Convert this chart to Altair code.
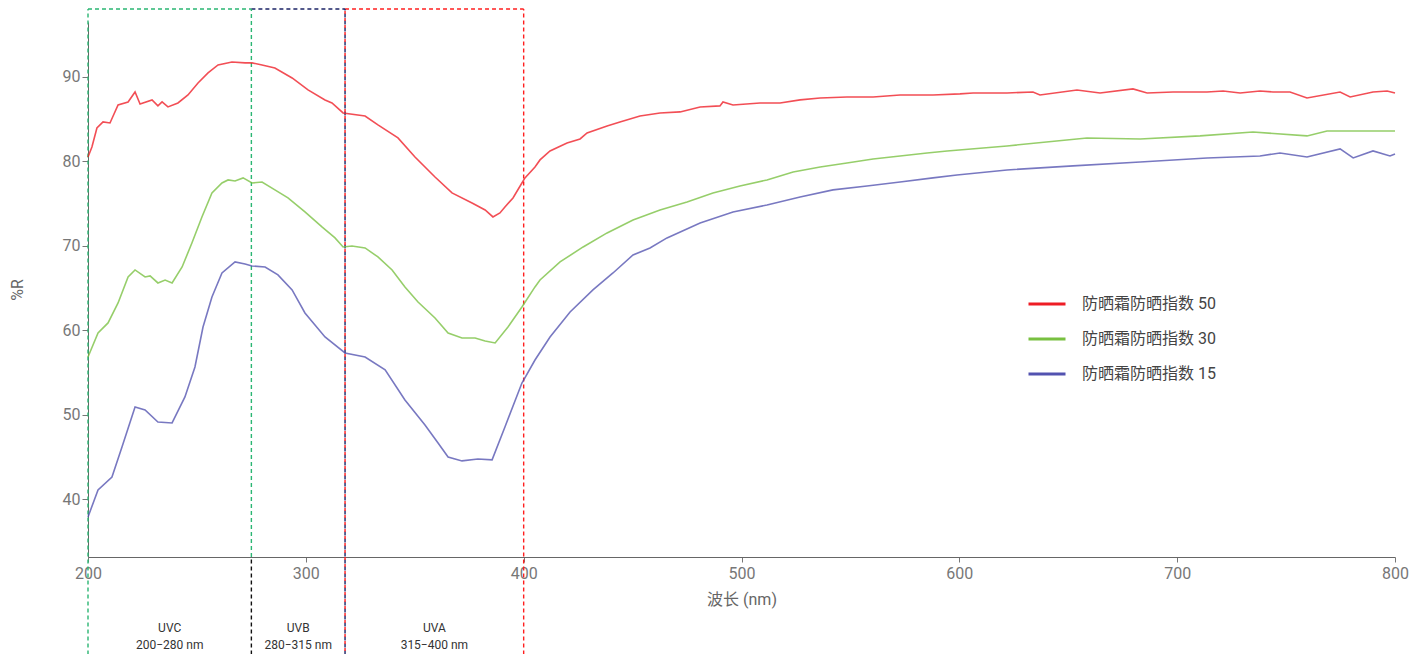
import altair as alt
import pandas as pd

# ---------------- data ----------------
series_names = ["防晒霜防晒指数 50", "防晒霜防晒指数 30", "防晒霜防晒指数 15"]
series_colors = ["#ee1c25", "#78c040", "#5252b0"]

wl_50 = [200, 201.8, 204.1, 206.9, 210.1, 213.8, 218.4, 221.6, 223.9, 229.4, 232.1, 234.0, 236.7, 241.3,
         245.9, 250.5, 255.1, 259.7, 266.1, 272.1, 275.3, 279.9, 285.8, 293.7, 301.0, 308.8, 312.0, 317.1,
         327.2, 333.1, 342.3, 350.1, 359.3, 367.1, 376.3, 382.3, 385.9, 389.1, 391.4, 395.1, 399.2, 400.6,
         405.2, 407.5, 412.1, 419.9, 425.9, 429.1, 438.3, 444.2, 453.4, 462.6, 471.8, 481.0, 490.1, 491.5,
         496.1, 508.5, 517.7, 526.9, 536.1, 548.4, 560.4, 572.8, 587.9, 600.3, 606.3, 621.9, 633.8, 637.0,
         654.0, 664.6, 679.7, 686.2, 698.1, 713.7, 721.1, 728.9, 738.0, 744.0, 751.8, 759.6, 774.8, 779.4,
         789.9, 796.4, 800]
r_50 = [80.53, 81.71, 83.96, 84.67, 84.55, 86.68, 87.04, 88.22, 86.80, 87.28, 86.57, 87.04, 86.45, 86.92,
        87.87, 89.29, 90.47, 91.42, 91.77, 91.66, 91.66, 91.42, 91.06, 89.88, 88.46, 87.28, 86.92, 85.74,
        85.38, 84.32, 82.78, 80.53, 78.16, 76.27, 75.09, 74.26, 73.43, 73.90, 74.61, 75.68, 77.45, 78.05,
        79.35, 80.18, 81.24, 82.19, 82.66, 83.37, 84.20, 84.67, 85.38, 85.74, 85.86, 86.45, 86.57, 87.04,
        86.68, 86.92, 86.92, 87.28, 87.51, 87.63, 87.63, 87.87, 87.87, 87.99, 88.10, 88.10, 88.22, 87.87,
        88.46, 88.10, 88.58, 88.10, 88.22, 88.22, 88.34, 88.10, 88.34, 88.22, 88.22, 87.51, 88.22, 87.63,
        88.22, 88.34, 88.10]

wl_30 = [200, 204.6, 209.2, 213.8, 218.4, 221.6, 226.2, 228.5, 232.1, 235.4, 238.6, 243.2, 247.7, 252.3,
         256.9, 261.5, 264.3, 267.5, 271.2, 275.3, 279.9, 285.8, 291.8, 299.6, 307.4, 313.4, 317.1, 321.2,
         327.2, 333.1, 339.6, 345.5, 351.5, 359.3, 365.3, 371.7, 377.7, 382.3, 386.9, 392.8, 399.2, 405.2,
         407.5, 416.7, 427.3, 438.3, 450.2, 462.6, 475.0, 486.9, 499.3, 511.7, 523.7, 536.1, 548.4, 560.4,
         572.8, 585.2, 594.4, 621.9, 658.6, 683.0, 710.5, 734.8, 759.6, 768.8, 784.0, 800]
r_30 = [56.86, 59.70, 60.89, 63.25, 66.33, 67.16, 66.33, 66.45, 65.62, 65.97, 65.62, 67.51, 70.35, 73.43,
        76.27, 77.45, 77.81, 77.69, 78.05, 77.45, 77.57, 76.63, 75.68, 74.02, 72.25, 70.95, 69.88, 70.00,
        69.76, 68.70, 67.16, 65.15, 63.37, 61.48, 59.70, 59.11, 59.11, 58.76, 58.52, 60.41, 62.78, 65.15,
        65.97, 68.11, 69.88, 71.54, 73.07, 74.26, 75.21, 76.27, 77.10, 77.81, 78.76, 79.35, 79.82, 80.29,
        80.65, 81.00, 81.24, 81.83, 82.78, 82.66, 83.02, 83.49, 83.02, 83.61, 83.61, 83.61]

wl_15 = [200, 204.6, 211.0, 215.6, 221.6, 226.2, 232.1, 238.6, 244.5, 249.1, 252.8, 256.9, 261.5, 267.5,
         272.1, 275.3, 281.3, 287.2, 293.7, 299.6, 308.8, 318.0, 327.2, 336.4, 345.5, 354.7, 360.7, 365.3,
         371.7, 379.0, 385.5, 391.4, 399.2, 405.2, 412.1, 421.3, 431.8, 441.0, 450.2, 458.0, 465.8, 481.0,
         496.1, 511.7, 526.9, 542.0, 557.6, 572.8, 587.9, 598.9, 621.9, 652.2, 683.0, 713.7, 738.0, 747.2,
         759.6, 774.8, 780.8, 789.9, 797.7, 800]
r_15 = [37.93, 41.12, 42.66, 46.21, 50.94, 50.59, 49.17, 49.05, 52.13, 55.68, 60.41, 63.96, 66.80, 68.11,
        67.87, 67.63, 67.51, 66.57, 64.79, 62.07, 59.23, 57.34, 56.86, 55.33, 51.78, 48.82, 46.69, 45.03,
        44.56, 44.79, 44.68, 48.58, 53.78, 56.50, 59.23, 62.19, 64.79, 66.80, 68.93, 69.76, 70.95, 72.72,
        74.02, 74.85, 75.80, 76.63, 77.10, 77.57, 78.05, 78.40, 78.99, 79.47, 79.94, 80.41, 80.65, 81.00,
        80.53, 81.48, 80.41, 81.24, 80.65, 80.89]

region_names = ["UVC", "UVB", "UVA"]
region_ranges = ["200−280 nm", "280−315 nm", "315−400 nm"]
region_x0 = [200, 275, 318]
region_x1 = [275, 318, 400]
region_colors = ["#2bb673", "#1b2366", "#ff1f1f"]

x_ticks = [200, 300, 400, 500, 600, 700, 800]
y_ticks = [40, 50, 60, 70, 80, 90]

Y_MIN, Y_MAX = 33.19, 96.5
BOX_TOP, BOX_BOTTOM = 98.04, 20.0
LABEL_Y = 24.79

# ---------------- tables ----------------
rows = []
for name, wl, r in zip(series_names, [wl_50, wl_30, wl_15], [r_50, r_30, r_15]):
    for a, b in zip(wl, r):
        rows.append({"series": name, "wl": a, "r": b})
df = pd.DataFrame(rows)

seg = []
for x0, x1, c in zip(region_x0, region_x1, region_colors):
    seg.append({"wl": x0, "wl2": x1, "r": BOX_TOP, "r2": BOX_TOP, "c": c})
seg.append({"wl": 200, "wl2": 200, "r": BOX_BOTTOM, "r2": BOX_TOP, "c": region_colors[0]})
seg.append({"wl": 275, "wl2": 275, "r": BOX_BOTTOM, "r2": Y_MIN, "c": "#111111"})
seg.append({"wl": 275, "wl2": 275, "r": Y_MIN, "r2": BOX_TOP, "c": region_colors[0]})
seg.append({"wl": 318, "wl2": 318, "r": BOX_BOTTOM, "r2": BOX_TOP, "c": region_colors[1]})
seg.append({"wl": 400, "wl2": 400, "r": BOX_BOTTOM, "r2": BOX_TOP, "c": region_colors[2]})
seg_df = pd.DataFrame(seg)
seg2_df = pd.DataFrame([{"wl": 318, "wl2": 318, "r": BOX_BOTTOM, "r2": BOX_TOP}])

lab_df = pd.DataFrame({
    "wl": [(a + b) / 2 for a, b in zip(region_x0, region_x1)],
    "r": [LABEL_Y] * 3,
    "t": [f"{n}\n{rg}" for n, rg in zip(region_names, region_ranges)],
})

FONT = "Roboto, 'Noto Sans CJK SC', sans-serif"

xscale = alt.Scale(domain=[200, 800], nice=False, zero=False)
yscale = alt.Scale(domain=[Y_MIN, Y_MAX], nice=False, zero=False)

x_axis = alt.Axis(title="波长 (nm)", values=x_ticks, grid=False, labelFontSize=16, labelFlush=False,
                  labelColor="#777777", tickColor="#777777", domainColor="#666666",
                  tickSize=5, labelPadding=3, titleFontSize=16, titleFontWeight="normal",
                  titleColor="#666666", titlePadding=10, labelFont=FONT, titleFont=FONT)
y_axis = alt.Axis(title="%R", values=y_ticks, grid=False, labelFontSize=16, labelFlush=False,
                  labelColor="#777777", tickColor="#777777", domainColor="#666666",
                  tickSize=6, labelPadding=2, titleFontSize=16, titleFontWeight="normal",
                  titleColor="#666666", titlePadding=37, labelFont=FONT, titleFont=FONT)

lines = alt.Chart(df).mark_line(strokeWidth=1.6, opacity=0.78).encode(
    x=alt.X("wl:Q", scale=xscale, axis=x_axis, title="波长 (nm)"),
    y=alt.Y("r:Q", scale=yscale, axis=y_axis, title="%R"),
    color=alt.Color("series:N", sort=series_names,
                    scale=alt.Scale(domain=series_names, range=series_colors),
                    legend=alt.Legend(title=None, orient="none", legendX=939, legendY=262,
                                      symbolType="stroke", symbolSize=1369, symbolStrokeWidth=3,
                                      symbolOpacity=1, labelFontSize=16, labelColor="#444444",
                                      labelFont=FONT, labelOffset=15, rowPadding=7, padding=0)),
)

rules = alt.Chart(seg_df).mark_rule(strokeWidth=1.4, strokeDash=[4, 3]).encode(
    x=alt.X("wl:Q", scale=xscale, axis=x_axis, title="波长 (nm)"),
    x2="wl2:Q",
    y=alt.Y("r:Q", scale=yscale, axis=y_axis, title="%R"),
    y2="r2:Q",
    stroke=alt.Stroke("c:N", scale=None, legend=None),
)

rules2 = alt.Chart(seg2_df).mark_rule(strokeWidth=1.4, strokeDash=[3, 4], strokeDashOffset=3.5,
                                      stroke=region_colors[2]).encode(
    x=alt.X("wl:Q", scale=xscale, axis=x_axis, title="波长 (nm)"),
    x2="wl2:Q",
    y=alt.Y("r:Q", scale=yscale, axis=y_axis, title="%R"),
    y2="r2:Q",
)

labels = alt.Chart(lab_df).mark_text(fontSize=12, color="#333333", lineBreak="\n", lineHeight=17,
                                     font=FONT, baseline="middle", align="center").encode(
    x=alt.X("wl:Q", scale=xscale, axis=x_axis, title="波长 (nm)"),
    y=alt.Y("r:Q", scale=yscale, axis=y_axis, title="%R"),
    text="t:N",
)

chart = alt.layer(rules, rules2, lines, labels).properties(
    width=1307, height=535,
    padding={"left": 80, "top": 14, "right": 25, "bottom": 97},
    autosize=alt.AutoSizeParams(type="none"),
    background="white",
).configure_view(stroke=None)

chart.save("out.html", embed_options={"renderer": "svg", "actions": False})
